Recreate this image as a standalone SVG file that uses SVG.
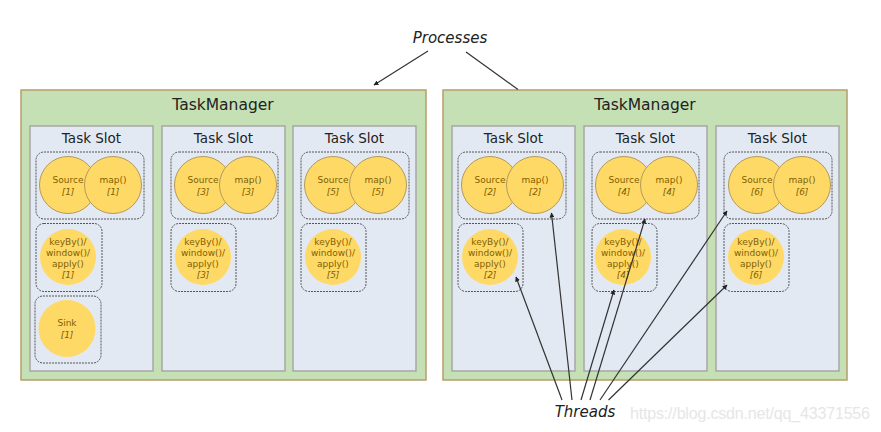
<svg xmlns="http://www.w3.org/2000/svg" width="881" height="432" viewBox="0 0 881 432">
<defs>
<style>
.tm{fill:#c5e0b4;stroke:#b89c6c;stroke-width:1.5}
.slot{fill:#e3e9f3;stroke:#a6a6a6;stroke-width:1.5}
.grp{fill:none;stroke:#555;stroke-width:1;stroke-dasharray:2 1}
.op{fill:#ffd966;stroke:#b5995a;stroke-width:1}
.opn{fill:#ffd966;stroke:none}
.tmt{font-family:"DejaVu Sans",sans-serif;font-size:15.5px;fill:#222;text-anchor:middle}
.st{font-family:"DejaVu Sans",sans-serif;font-size:13.5px;fill:#222;text-anchor:middle}
.ct{font-family:"DejaVu Sans",sans-serif;font-size:9px;fill:#7f6000;text-anchor:middle}
.ci{font-style:italic}
.lbl{font-family:"DejaVu Sans",sans-serif;font-size:15px;font-style:italic;fill:#222;text-anchor:middle}
.wm{font-family:"Liberation Sans",Arial,sans-serif;font-size:16px;fill:#e6e6e6}
.ln{fill:none;stroke:#333;stroke-width:1.2}
</style>
<marker id="ah" viewBox="0 0 10 10" refX="9" refY="5" markerWidth="5" markerHeight="5" orient="auto" markerUnits="userSpaceOnUse">
<path d="M0,0 L10,5 L0,10 z" fill="#222"/>
</marker>
</defs>
<rect width="881" height="432" fill="#fff"/>

<g id="taskmanager1">
<rect class="tm" x="21" y="90" width="405" height="290"/>
<text class="tmt" x="223" y="110">TaskManager</text>
</g>
<g id="taskmanager2">
<rect class="tm" x="443" y="90" width="404" height="290"/>
<text class="tmt" x="645" y="110">TaskManager</text>
</g>

<g id="slot1">
<rect class="slot" x="30" y="126" width="123" height="245"/>
<text class="st" x="91.5" y="143">Task Slot</text>
<rect class="grp" x="36" y="152" width="108" height="67" rx="8"/>
<circle class="op" cx="68" cy="185" r="28.5"/>
<text class="ct" x="68" y="183">Source</text><text class="ct ci" x="68" y="195">[1]</text>
<circle class="op" cx="113" cy="185" r="28.5"/>
<text class="ct" x="113" y="183">map()</text><text class="ct ci" x="113" y="195">[1]</text>
<rect class="grp" x="36" y="223.5" width="66" height="68" rx="8"/>
<circle class="opn" cx="68" cy="257" r="28"/>
<text class="ct" x="68" y="245">keyBy()/</text><text class="ct" x="68" y="256">window()/</text><text class="ct" x="68" y="267">apply()</text><text class="ct ci" x="68" y="278">[1]</text>
<rect class="grp" x="35" y="296" width="66" height="67" rx="8"/>
<circle class="opn" cx="67" cy="328.5" r="28.5"/>
<text class="ct" x="67" y="326">Sink</text><text class="ct ci" x="67" y="338">[1]</text>
</g>

<g id="slot3">
<rect class="slot" x="162" y="126" width="123" height="245"/>
<text class="st" x="223.5" y="143">Task Slot</text>
<rect class="grp" x="171" y="152" width="107" height="67" rx="8"/>
<circle class="op" cx="203" cy="185" r="28.5"/>
<text class="ct" x="203" y="183">Source</text><text class="ct ci" x="203" y="195">[3]</text>
<circle class="op" cx="248" cy="185" r="28.5"/>
<text class="ct" x="248" y="183">map()</text><text class="ct ci" x="248" y="195">[3]</text>
<rect class="grp" x="171" y="223.5" width="65" height="68" rx="8"/>
<circle class="opn" cx="203" cy="257" r="28"/>
<text class="ct" x="203" y="245">keyBy()/</text><text class="ct" x="203" y="256">window()/</text><text class="ct" x="203" y="267">apply()</text><text class="ct ci" x="203" y="278">[3]</text>
</g>

<g id="slot5">
<rect class="slot" x="293" y="126" width="123" height="245"/>
<text class="st" x="354.5" y="143">Task Slot</text>
<rect class="grp" x="301" y="152" width="108" height="67" rx="8"/>
<circle class="op" cx="333" cy="185" r="28.5"/>
<text class="ct" x="333" y="183">Source</text><text class="ct ci" x="333" y="195">[5]</text>
<circle class="op" cx="378" cy="185" r="28.5"/>
<text class="ct" x="378" y="183">map()</text><text class="ct ci" x="378" y="195">[5]</text>
<rect class="grp" x="301" y="223.5" width="65" height="68" rx="8"/>
<circle class="opn" cx="333" cy="257" r="28"/>
<text class="ct" x="333" y="245">keyBy()/</text><text class="ct" x="333" y="256">window()/</text><text class="ct" x="333" y="267">apply()</text><text class="ct ci" x="333" y="278">[5]</text>
</g>

<g id="slot2">
<rect class="slot" x="452" y="126" width="123" height="245"/>
<text class="st" x="513.5" y="143">Task Slot</text>
<rect class="grp" x="458" y="152" width="108" height="67" rx="8"/>
<circle class="op" cx="490" cy="185" r="28.5"/>
<text class="ct" x="490" y="183">Source</text><text class="ct ci" x="490" y="195">[2]</text>
<circle class="op" cx="535" cy="185" r="28.5"/>
<text class="ct" x="535" y="183">map()</text><text class="ct ci" x="535" y="195">[2]</text>
<rect class="grp" x="458" y="223.5" width="65" height="68" rx="8"/>
<circle class="opn" cx="490" cy="257" r="28"/>
<text class="ct" x="490" y="245">keyBy()/</text><text class="ct" x="490" y="256">window()/</text><text class="ct" x="490" y="267">apply()</text><text class="ct ci" x="490" y="278">[2]</text>
</g>

<g id="slot4">
<rect class="slot" x="584" y="126" width="123" height="245"/>
<text class="st" x="645.5" y="143">Task Slot</text>
<rect class="grp" x="592" y="152" width="107" height="67" rx="8"/>
<circle class="op" cx="624" cy="185" r="28.5"/>
<text class="ct" x="624" y="183">Source</text><text class="ct ci" x="624" y="195">[4]</text>
<circle class="op" cx="669" cy="185" r="28.5"/>
<text class="ct" x="669" y="183">map()</text><text class="ct ci" x="669" y="195">[4]</text>
<rect class="grp" x="592" y="223.5" width="65" height="68" rx="8"/>
<circle class="opn" cx="623" cy="257" r="28"/>
<text class="ct" x="623" y="245">keyBy()/</text><text class="ct" x="623" y="256">window()/</text><text class="ct" x="623" y="267">apply()</text><text class="ct ci" x="623" y="278">[4]</text>
</g>

<g id="slot6">
<rect class="slot" x="716" y="126" width="123" height="245"/>
<text class="st" x="777.5" y="143">Task Slot</text>
<rect class="grp" x="724" y="152" width="108" height="67" rx="8"/>
<circle class="op" cx="757" cy="185" r="28.5"/>
<text class="ct" x="757" y="183">Source</text><text class="ct ci" x="757" y="195">[6]</text>
<circle class="op" cx="802" cy="185" r="28.5"/>
<text class="ct" x="802" y="183">map()</text><text class="ct ci" x="802" y="195">[6]</text>
<rect class="grp" x="724" y="223.5" width="65" height="68" rx="8"/>
<circle class="opn" cx="756" cy="257" r="28"/>
<text class="ct" x="756" y="245">keyBy()/</text><text class="ct" x="756" y="256">window()/</text><text class="ct" x="756" y="267">apply()</text><text class="ct ci" x="756" y="278">[6]</text>
</g>

<g id="processes">
<text class="lbl" x="450" y="43">Processes</text>
</g>
<g id="threads">
<text class="lbl" x="585" y="417">Threads</text>
</g>
<text class="wm" x="630" y="419" textLength="240">https://blog.csdn.net/qq_43371556</text>

<g id="connectors">
<line class="ln" x1="428" y1="51" x2="374" y2="85" marker-end="url(#ah)"/>
<line class="ln" x1="466" y1="52" x2="518" y2="89.5"/>
<line class="ln" x1="562" y1="400" x2="516" y2="277" marker-end="url(#ah)"/>
<line class="ln" x1="572" y1="400" x2="551.5" y2="213" marker-end="url(#ah)"/>
<line class="ln" x1="581" y1="400" x2="614" y2="290" marker-end="url(#ah)"/>
<line class="ln" x1="590" y1="400" x2="645" y2="219" marker-end="url(#ah)"/>
<line class="ln" x1="600" y1="400" x2="727" y2="211" marker-end="url(#ah)"/>
<line class="ln" x1="608.5" y1="400" x2="727" y2="285" marker-end="url(#ah)"/>
</g>
</svg>
